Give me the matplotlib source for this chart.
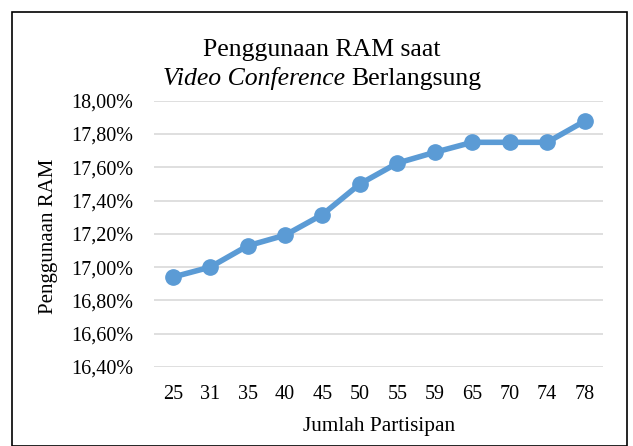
import matplotlib
matplotlib.use("Agg")
import matplotlib.pyplot as plt
from matplotlib.patches import Rectangle
from matplotlib.ticker import FuncFormatter, MultipleLocator

categories = ["25", "31", "35", "40", "45", "50", "55", "59", "65", "70", "74", "78"]
ram_usage = [16.94, 17.00, 17.128, 17.192, 17.316, 17.50, 17.625, 17.69, 17.75, 17.75, 17.75, 17.877]

title_line1 = "Penggunaan RAM saat"
title_italic = "Video Conference "
title_rest = "Berlangsung"
x_label = "Jumlah Partisipan"
y_label = "Penggunaan RAM"

plt.rcParams['font.family'] = ['Liberation Serif', 'DejaVu Serif']

W, H = 633, 446
fig = plt.figure(figsize=(W / 100, H / 100), dpi=100)
fig.patch.set_facecolor("white")

# outer chart border
fig.patches.append(Rectangle((12 / W, 0.5 / H), (627 - 12) / W, (434) / H,
                             transform=fig.transFigure, fill=False,
                             edgecolor="black", linewidth=1.2))

left, right = 154 / W, 603.3 / W
bottom, top = 1 - 367 / H, 1 - 100.7 / H
ax = fig.add_axes([left, bottom, right - left, top - bottom])

x = list(range(len(categories)))
ax.plot(x, ram_usage, color="#5B9BD5", linewidth=4.0, marker="o",
        markersize=11, solid_capstyle="round", zorder=3)

ax.set_xlim(-0.5, len(categories) - 0.5)
ax.set_ylim(16.40, 18.00)
ax.yaxis.set_major_locator(MultipleLocator(0.2))
ax.yaxis.set_major_formatter(FuncFormatter(lambda v, p: f"{v:.2f}".replace(".", ",") + "%"))
ax.set_xticks(x)
ax.set_xticklabels(categories)

ax.grid(axis="y", color="#D9D9D9", linewidth=1.2)
ax.set_axisbelow(True)
for s in ax.spines.values():
    s.set_visible(False)
ax.tick_params(axis="both", length=0, labelsize=14.5)
ax.tick_params(axis="y", pad=15)
ax.tick_params(axis="x", pad=13)

fig.text((left + right) / 2, 1 - 430.7 / H, x_label, ha="center", va="baseline", fontsize=15.3)
fig.text(49 / W, 1 - 236 / H, y_label, ha="center", va="center", rotation=90, fontsize=15)

# Title
cx = 322 / W
fig.text(cx, 1 - 56 / H, title_line1, ha="center", va="baseline", fontsize=18.5)
fig.canvas.draw()
r = fig.canvas.get_renderer()
t1 = fig.text(0, 1 - 85 / H, title_italic, ha="left", va="baseline", fontsize=18.5,
              family=["Liberation Serif", "DejaVu Serif"], style="italic")
t2 = fig.text(0, 1 - 85 / H, title_rest, ha="left", va="baseline", fontsize=18.5)
w1 = t1.get_window_extent(r).width
w2 = t2.get_window_extent(r).width
start = cx * W - (w1 + w2) / 2
t1.set_x(start / W)
t2.set_x((start + w1) / W)

fig.savefig("out.png", dpi=100, facecolor="white")
